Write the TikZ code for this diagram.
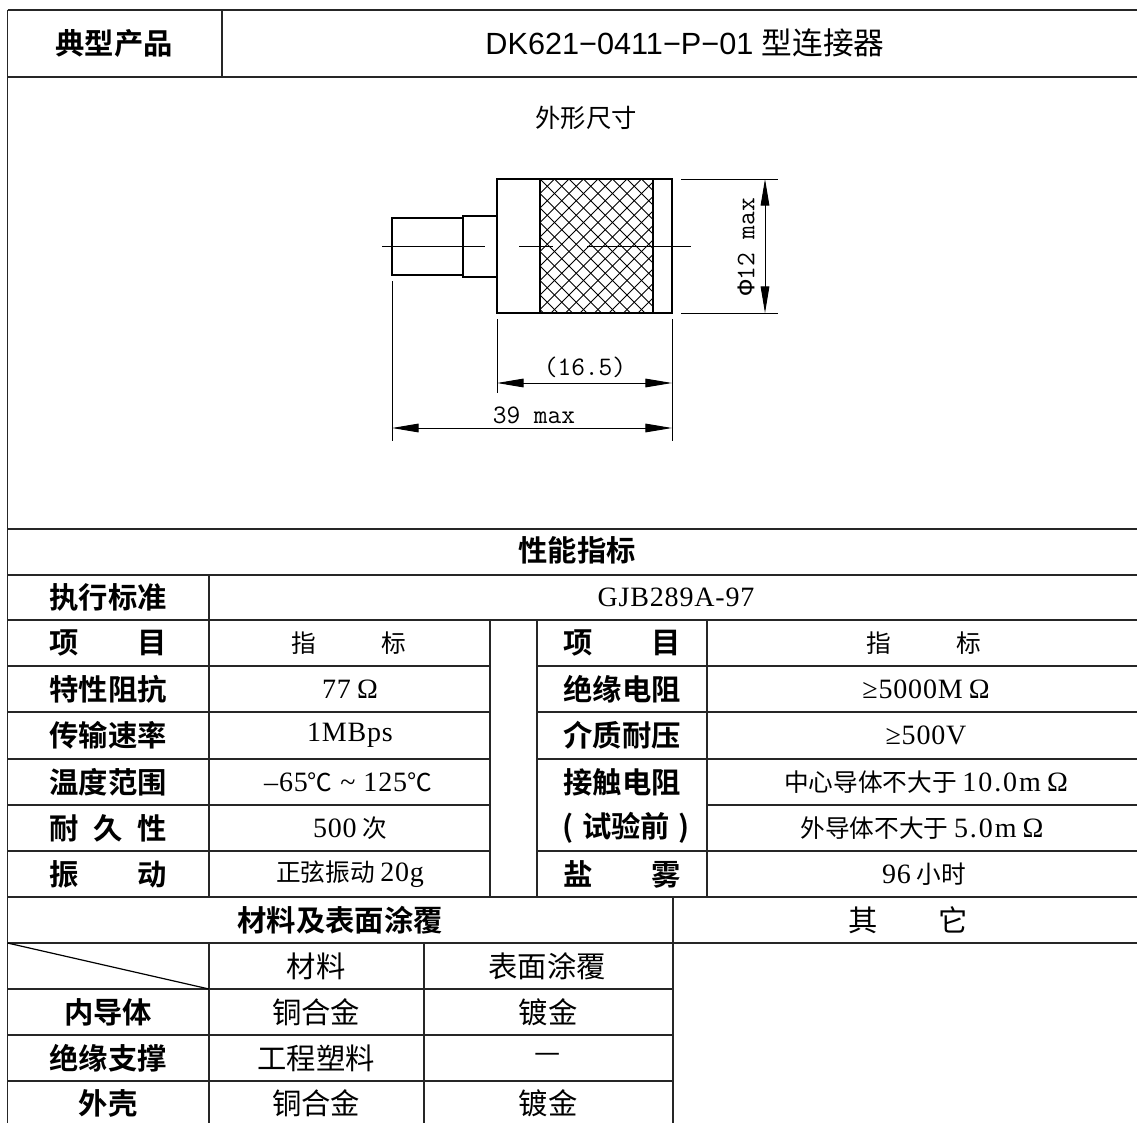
\documentclass[tikz,border=0pt]{standalone}
\usepackage{fontspec}
\setmainfont{Liberation Serif}
\newfontfamily\cjk{Noto Sans CJK SC}[BoldFont={Noto Sans CJK SC Bold}]
\newfontfamily\tnr{Liberation Serif}[LetterSpace=3]
\newfontfamily\tnrw{Liberation Serif}[LetterSpace=7]
\newfontfamily\arl{Liberation Sans}
\newfontfamily\lmono{Liberation Mono}
\usetikzlibrary{arrows.meta}
\newcommand\latn[1]{{\tnr\fontsize{21}{22}\selectfont #1}}
\newcommand\latw[1]{{\tnrw\fontsize{21}{22}\selectfont #1}}
\newcommand\ohm{\hspace{4.5pt}Ω}
\begin{document}
\begin{tikzpicture}[x=0.75pt,y=-0.75pt,
  grid/.style={line width=1.1pt,draw=black!85},
  body/.style={line width=1.5pt},
  thinl/.style={line width=0.7pt},
  hatch/.style={line width=0.65pt},
  dimarrow/.style={line width=0.7pt,{Triangle[length=20pt,width=6.5pt]}-{Triangle[length=20pt,width=6.5pt]}},
  head/.style={font=\cjk\fontsize{23}{25}\selectfont,inner sep=0pt},
  lab/.style={font=\cjk\bfseries\fontsize{22}{24}\selectfont,inner sep=0pt},
  val/.style={font=\cjk\fontsize{18.5}{20}\selectfont,inner sep=0pt},
  valb/.style={font=\cjk\fontsize{22}{24}\selectfont,inner sep=0pt},
  dimtxt/.style={font=\ttfamily\fontsize{20}{22}\selectfont,inner sep=0pt}]
\useasboundingbox (0,0) rectangle (1137,1123);
\fill[white] (0,0) rectangle (1137,1123);
% ---------- table grid ----------
\draw[grid] (7.5,10) -- (1137,10);
\draw[grid] (7.5,77) -- (1137,77);
\draw[grid] (7.5,529) -- (1137,529);
\draw[grid] (7.5,575) -- (1137,575);
\draw[grid] (7.5,620) -- (1137,620);
\foreach \yy in {666,712,759,851}{
  \draw[grid] (7.5,\yy) -- (490,\yy);
  \draw[grid] (537,\yy) -- (1137,\yy);
}
\draw[grid] (7.5,805) -- (490,805);
\draw[grid] (707,805) -- (1137,805);
\draw[grid] (7.5,897) -- (1137,897);
\draw[grid] (7.5,943) -- (1137,943);
\foreach \yy in {989,1035,1081}{\draw[grid] (7.5,\yy) -- (673,\yy);}
\draw[grid] (7.5,10) -- (7.5,1123);
\draw[grid] (222,10) -- (222,77);
\draw[grid] (209,575) -- (209,897);
\draw[grid] (209,943) -- (209,1123);
\draw[grid] (490,620) -- (490,897);
\draw[grid] (537,620) -- (537,897);
\draw[grid] (707,620) -- (707,897);
\draw[grid] (424,943) -- (424,1123);
\draw[grid] (673,897) -- (673,1123);
\draw[line width=0.9pt] (7.5,943) -- (209,989);
% ---------- header ----------
\node[lab] (h1) at (114,43) {典型产品};
\node[head] (h2) at (685,43) {{\arl DK621−0411−P−01 }型连接器};
\node[val,font=\cjk\fontsize{19}{21}\selectfont] (wx) at (586,118) {外形尺寸};
% ---------- drawing ----------
\begin{scope}
\clip (540,179) rectangle (653,313);
\foreach \k in {-10,...,18}{
  \draw[hatch] (540+\k*14.5,179) -- ++(134,134);
  \draw[hatch] (540+\k*14.5,179) -- ++(-134,134);
}
\end{scope}
\draw[body] (497,179) rectangle (672,313);
\draw[body] (540,179) -- (540,313);
\draw[body] (653,179) -- (653,313);
\draw[body] (497,216) -- (463,216) -- (463,277) -- (497,277);
\draw[body] (463,218) -- (392,218) -- (392,275) -- (463,275);
\draw[thinl] (382,246) -- (485,246);
\draw[thinl] (519,246) -- (553,246);
\draw[thinl] (587,246) -- (691,246);
\coordinate (e1a) at (681,179); \coordinate (e1b) at (778,179);
\coordinate (e2a) at (681,313); \coordinate (e2b) at (778,313);
\draw[thinl] (e1a) -- (e1b);
\draw[thinl] (e2a) -- (e2b);
\coordinate (v1) at (765,179); \coordinate (v2) at (765,313);
\draw[dimarrow] (v1) -- (v2);
\node[dimtxt,rotate=90] (d12) at (746,247) {{\lmono\fontsize{19}{21}\selectfont Φ}12 max};
\coordinate (x1a) at (497,319); \coordinate (x1b) at (497,393);
\coordinate (x2a) at (672,319); \coordinate (x2b) at (672,441);
\coordinate (x3a) at (392,281); \coordinate (x3b) at (392,441);
\draw[thinl] (x1a) -- (x1b);
\draw[thinl] (x2a) -- (x2b);
\draw[thinl] (x3a) -- (x3b);
\coordinate (h165a) at (497,383); \coordinate (h165b) at (672,383);
\coordinate (h39a) at (392,428); \coordinate (h39b) at (672,428);
\draw[dimarrow] (h165a) -- (h165b);
\draw[dimarrow] (h39a) -- (h39b);
\node[dimtxt] (d165) at (585,367) {(16.5)};
\node[dimtxt] (d39) at (534,415) {39 max};
% ---------- performance ----------
\node[lab] (perf) at (577,550) {性能指标};
\node[lab] (l1) at (108,597.5) {执行标准};
\node[val] (v1t) at (676,597.5) {\latn{GJB289A-97}};
\node[lab] (l2) at (108,643) {\makebox[88pt]{项\hfill 目}};
\node[val] (v2t) at (349,643) {\makebox[86pt]{指\hfill 标}};
\node[lab] (r2) at (622,643) {\makebox[88pt]{项\hfill 目}};
\node[val] (w2t) at (924,643) {\makebox[86pt]{指\hfill 标}};
\node[lab] (l3) at (108,689) {特性阻抗};
\node[val] (v3t) at (350,689) {\latn{77\ohm}};
\node[lab] (r3) at (622,689) {绝缘电阻};
\node[val] (w3t) at (926,689) {\latn{≥5000M\ohm}};
\node[lab] (l4) at (108,735.5) {传输速率};
\node[val] (v4t) at (350,735.5) {\latn{1MBps}};
\node[lab] (r4) at (622,735.5) {介质耐压};
\node[val] (w4t) at (926,735.5) {\latn{≥500V}};
\node[lab] (l5) at (108,782) {温度范围};
\node[val] (v5t) at (348,782) {\latn{–65}℃\latn{ \textasciitilde{} 125}℃};
\node[lab] (r5) at (622,782) {接触电阻};
\node[val] (w5t) at (926,782) {中心导体不大于 \latw{10.0m\ohm}};
\node[lab] (l6) at (108,828) {\makebox[88pt]{耐\hfill 久\hfill 性}};
\node[val] (v6t) at (350,828) {\latn{500} 次};
\node[lab] (r6) at (626,828) {\makebox[95pt]{(\hfill 试验前\hfill )}};
\node[val] (w6t) at (922,828) {外导体不大于 \latw{5.0m\ohm}};
\node[lab] (l7) at (108,874) {\makebox[88pt]{振\hfill 动}};
\node[val] (v7t) at (350,874) {正弦振动 \latn{20g}};
\node[lab] (r7) at (622,874) {\makebox[88pt]{盐\hfill 雾}};
\node[val] (w7t) at (924,874) {\latn{96} 小时};
% ---------- materials ----------
\node[lab] (mat) at (340,920) {材料及表面涂覆};
\node[valb] (oth) at (908,920) {\makebox[90pt]{其\hfill 它}};
\node[valb] (c1) at (316,966) {材料};
\node[valb] (c2) at (547,966) {表面涂覆};
\node[lab] (m1) at (108,1012) {内导体};
\node[valb] (m1a) at (316,1012) {铜合金};
\node[valb] (m1b) at (548,1012) {镀金};
\node[lab] (m2) at (108,1058) {绝缘支撑};
\node[valb] (m2a) at (316,1058) {工程塑料};
\node[valb] (m2b) at (548,1058) {—};
\node[lab] (m3) at (108,1103) {外壳};
\node[valb] (m3a) at (316,1103) {铜合金};
\node[valb] (m3b) at (548,1103) {镀金};
\end{tikzpicture}
\end{document}
